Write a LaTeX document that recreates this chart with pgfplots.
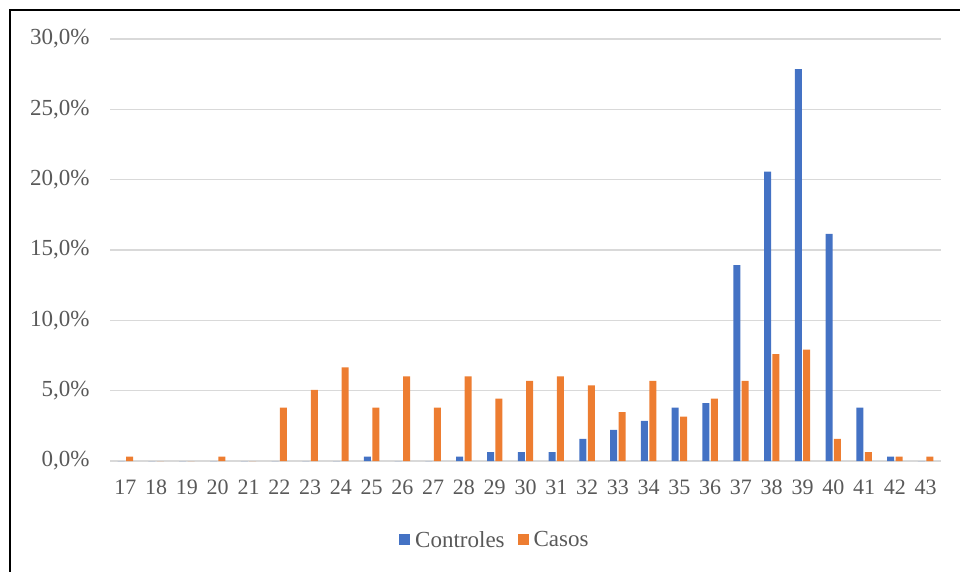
\documentclass[border=0pt]{standalone}
\usepackage{pgfplots}
\usepackage{pgfplotstable}
\pgfplotsset{compat=1.18}
\usepackage{fontspec}
\setmainfont{Liberation Serif}

\definecolor{ctrl}{HTML}{4472C4}
\definecolor{caso}{HTML}{ED7D31}
\definecolor{txt}{HTML}{595959}
\definecolor{gridc}{HTML}{D9D9D9}

% Porcentaje por semana de edad gestacional
\pgfplotstableread{
edad controles casos
17 0     0.32
18 0     0
19 0     0
20 0     0.32
21 0     0
22 0     3.80
23 0     5.06
24 0     6.65
25 0.32  3.80
26 0     6.01
27 0     3.80
28 0.32  6.01
29 0.63  4.43
30 0.63  5.70
31 0.63  6.01
32 1.58  5.38
33 2.22  3.48
34 2.85  5.70
35 3.80  3.16
36 4.11  4.43
37 13.92 5.70
38 20.57 7.59
39 27.85 7.91
40 16.14 1.58
41 3.80  0.63
42 0.32  0.32
43 0     0.32
}\datos

\begin{document}
\begin{tikzpicture}
\path[use as bounding box] (0,0) rectangle (960bp,-572bp);
\draw[line width=2bp] (10bp,-580bp) -- (10bp,-10bp) -- (970bp,-10bp);
\begin{axis}[
  scale only axis,
  width=831bp, height=422bp,
  at={(110bp,-461bp)}, anchor=south west,
  xmin=16.5, xmax=43.5, ymin=0, ymax=30,
  xtick={17,...,43},
  ytick={0,5,...,30},
  yticklabels={{0,0\%},{5,0\%},{10,0\%},{15,0\%},{20,0\%},{25,0\%},{30,0\%}},
  /pgf/number format/assume math mode=true,
  ymajorgrids,
  grid style={gridc, line width=1.3bp},
  axis line style={draw=none},
  major tick length=0pt,
  tick style={draw=none},
  ticklabel style={text=txt},
  xticklabel style={font=\fontsize{22bp}{25bp}\selectfont, yshift=-15bp},
  yticklabel style={font=\fontsize{23bp}{26bp}\selectfont, xshift=-17bp},
  ybar=1.4bp,
  bar width=7bp,
  legend style={at={(0.465,-0.187)}, anchor=center, draw=none, fill=none,
    font=\fontsize{23bp}{26bp}\selectfont, text=txt,
    legend columns=2,
    /tikz/every even column/.append style={column sep=8bp},
    nodes={inner xsep=5bp}},
  legend image code/.code={\fill (0bp,-5.5bp) rectangle (11bp,5.5bp);},
]
\addplot[draw=none, fill=ctrl] table[x=edad, y=controles] {\datos};
\addplot[draw=none, fill=caso] table[x=edad, y=casos] {\datos};
\legend{Controles, Casos}
\end{axis}
\end{tikzpicture}
\end{document}
